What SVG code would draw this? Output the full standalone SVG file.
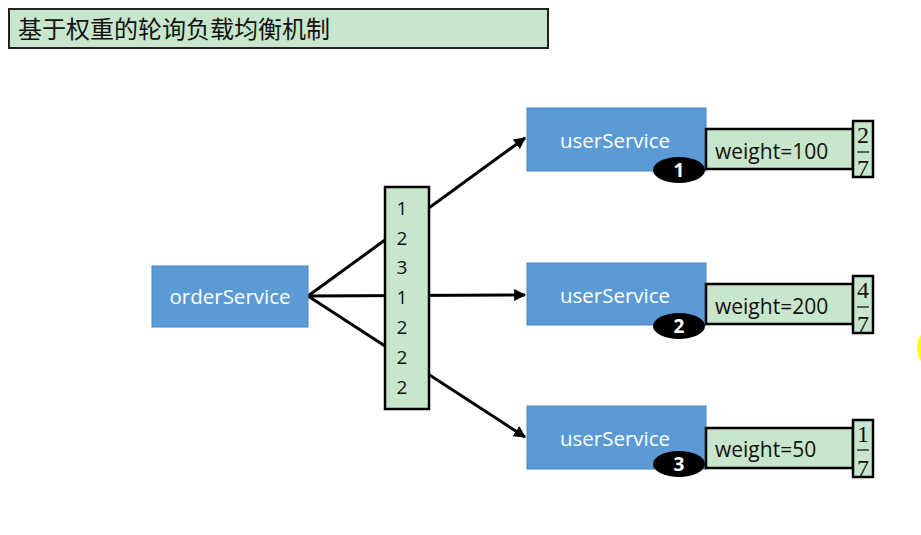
<svg xmlns="http://www.w3.org/2000/svg" width="921" height="535" viewBox="0 0 921 535">
<style>
.svc{fill:#5b9bd5;stroke:#4a86bf;stroke-width:1}
.svct{font-family:"Open Sans","Liberation Sans",sans-serif;font-size:20.5px;fill:#ffffff;text-anchor:middle}
.grn{fill:#c8e6cb;stroke:#000;stroke-width:2.5}
.wt{font-family:"Open Sans","Liberation Sans",sans-serif;font-size:21px;fill:#111}
.num{font-family:"Open Sans","Liberation Sans",sans-serif;font-size:19px;fill:#111;text-anchor:middle}
.frac{font-family:"Liberation Serif",serif;font-size:24px;fill:#111;text-anchor:middle}
.badge{fill:#000}
.bt{font-family:"Open Sans","Liberation Sans",sans-serif;font-size:19px;font-weight:bold;fill:#fff;text-anchor:middle}
.conn{stroke:#000;stroke-width:3;fill:none}
</style>
<defs>
<marker id="ah" viewBox="0 0 10 10" refX="9" refY="5" markerWidth="4" markerHeight="4" orient="auto" markerUnits="strokeWidth">
<path d="M0,0 L10,5 L0,10 z" fill="#000"/>
</marker>
</defs>
<rect width="921" height="535" fill="#ffffff"/>
<g id="title">
<rect x="9" y="9" width="539" height="39" fill="#c8e6cb" stroke="#222" stroke-width="2"/>
<text x="18" y="38" font-family="'Noto Sans CJK SC',sans-serif" font-size="24" fill="#111">基于权重的轮询负载均衡机制</text>
</g>
<g id="connectors">
<line class="conn" x1="308" y1="296" x2="525" y2="138" marker-end="url(#ah)"/>
<line class="conn" x1="308" y1="296" x2="525" y2="295" marker-end="url(#ah)"/>
<line class="conn" x1="308" y1="296" x2="525" y2="437" marker-end="url(#ah)"/>
</g>
<g id="orderService">
<rect class="svc" x="152" y="266" width="156" height="61"/>
<text class="svct" x="230" y="304">orderService</text>
</g>
<g id="sequence">
<rect class="grn" x="385" y="187" width="44" height="222"/>
<text class="num" x="402" y="215">1</text>
<text class="num" x="402" y="245">2</text>
<text class="num" x="402" y="274">3</text>
<text class="num" x="402" y="304">1</text>
<text class="num" x="402" y="334">2</text>
<text class="num" x="402" y="364">2</text>
<text class="num" x="402" y="394">2</text>
</g>
<g id="userService1">
<rect class="svc" x="527" y="108" width="179" height="63"/>
<text class="svct" x="615" y="148">userService</text>
<rect class="grn" x="706" y="129" width="147" height="40"/>
<text class="wt" x="715" y="159">weight=100</text>
<rect class="grn" x="853" y="121" width="20" height="56"/>
<text class="frac" x="863" y="143">2</text>
<line x1="857" y1="152" x2="869" y2="152" stroke="#333" stroke-width="1.5"/>
<text class="frac" x="863" y="176">7</text>
<ellipse class="badge" cx="679" cy="170" rx="26" ry="13"/>
<text class="bt" x="679" y="177">1</text>
</g>
<g id="userService2">
<rect class="svc" x="527" y="263" width="179" height="62"/>
<text class="svct" x="615" y="303">userService</text>
<rect class="grn" x="706" y="284" width="147" height="40"/>
<text class="wt" x="715" y="314">weight=200</text>
<rect class="grn" x="853" y="276" width="20" height="57"/>
<text class="frac" x="863" y="298">4</text>
<line x1="857" y1="307" x2="869" y2="307" stroke="#333" stroke-width="1.5"/>
<text class="frac" x="863" y="332">7</text>
<ellipse class="badge" cx="679" cy="326" rx="26" ry="13"/>
<text class="bt" x="679" y="333">2</text>
</g>
<g id="userService3">
<rect class="svc" x="527" y="406" width="179" height="63"/>
<text class="svct" x="615" y="446">userService</text>
<rect class="grn" x="706" y="428" width="147" height="40"/>
<text class="wt" x="715" y="457">weight=50</text>
<rect class="grn" x="853" y="420" width="20" height="57"/>
<text class="frac" x="863" y="442">1</text>
<line x1="857" y1="450" x2="869" y2="450" stroke="#333" stroke-width="1.5"/>
<text class="frac" x="863" y="476">7</text>
<ellipse class="badge" cx="679" cy="464" rx="26" ry="13"/>
<text class="bt" x="679" y="471">3</text>
</g>
<ellipse cx="930" cy="348" rx="13" ry="18" fill="#ffff00"/>
</svg>
